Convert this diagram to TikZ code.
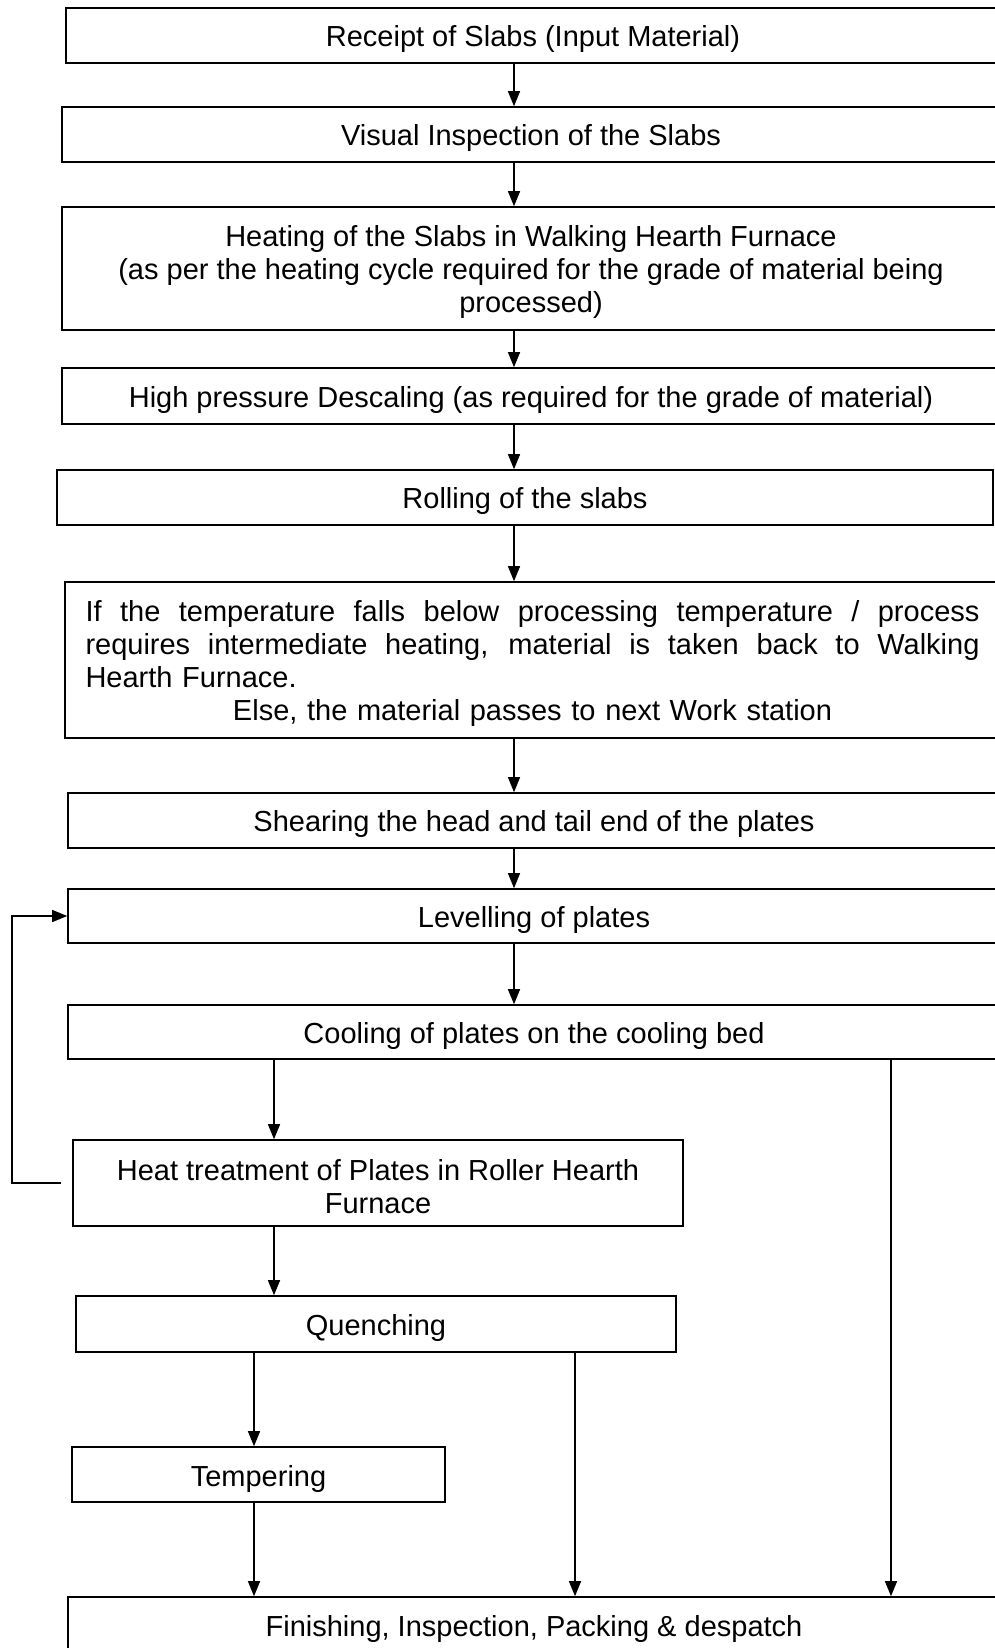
\documentclass[tikz,border=0pt]{standalone}
\usepackage{fontspec}
\setmainfont{Liberation Sans}
\usepackage{tikz}
\usetikzlibrary{arrows.meta}

\newcommand{\lift}{\rule{0pt}{29pt}}
\newcommand{\justline}[1]{\leavevmode\hbox to 894pt{\spaceskip=0.278em plus 1fil\relax #1}}

\begin{document}
\begin{tikzpicture}[
    x=1pt, y=-1pt,
    stage/.style={rectangle, draw, line width=1.6pt, align=center, inner sep=0pt, font=\fontsize{29}{33}\selectfont, execute at begin node={\lift}},
    flow/.style={-{Triangle[length=15pt,width=12pt]}, line width=1.3pt}
]
\useasboundingbox (0,0) rectangle (995,1648);

\node [stage, minimum width=934pt, minimum height=55pt] (receipt) at (533,35.5) {Receipt of Slabs (Input Material)};
\node [stage, minimum width=938pt, minimum height=55pt] (visual) at (531,134.5) {Visual Inspection of the Slabs};
\node [stage, minimum width=938pt, minimum height=123pt] (heating) at (531,268.5) {\lift Heating of the Slabs in Walking Hearth Furnace\\(as per the heating cycle required for the grade of material being\\processed)};
\node [stage, minimum width=938pt, minimum height=56pt] (descale) at (531,396) {High pressure Descaling (as required for the grade of material)};
\node [stage, minimum width=936pt, minimum height=55pt] (rolling) at (525,497.5) {Rolling of the slabs};
\node [stage, minimum width=935pt, minimum height=156pt, text width=894pt, align=left] (temp) at (532.5,660) {%
    \justline{If the temperature falls below processing temperature / process}\\
    \justline{requires intermediate heating, material is taken back to Walking}\\
    Hearth Furnace.\\
    \makebox[894pt][c]{Else, the material passes to next Work station}};
\node [stage, minimum width=932pt, minimum height=55pt] (shearing) at (534,820.5) {Shearing the head and tail end of the plates};
\node [stage, minimum width=932pt, minimum height=54pt] (levelling) at (534,916) {Levelling of plates};
\node [stage, minimum width=932pt, minimum height=54pt] (cooling) at (534,1032) {Cooling of plates on the cooling bed};
\node [stage, minimum width=610pt, minimum height=86pt] (heattreat) at (378,1183) {\lift Heat treatment of Plates in Roller Hearth\\Furnace};
\node [stage, minimum width=600pt, minimum height=56pt] (quench) at (376,1324) {Quenching};
\node [stage, minimum width=373pt, minimum height=55pt] (temper) at (258.5,1474.5) {Tempering};
\node [stage, minimum width=932pt, minimum height=56pt] (finish) at (534,1625) {Finishing, Inspection, Packing \& despatch};

\coordinate (spine) at (514,0);
\coordinate (loop) at (12,0);
\coordinate (hx) at (274,0);
\coordinate (tx) at (254,0);
\coordinate (qx) at (575,0);
\coordinate (cx) at (891,0);

\draw [flow] (receipt.south -| spine) -- (visual.north -| spine);
\draw [flow] (visual.south -| spine) -- (heating.north -| spine);
\draw [flow] (heating.south -| spine) -- (descale.north -| spine);
\draw [flow] (descale.south -| spine) -- (rolling.north -| spine);
\draw [flow] (rolling.south -| spine) -- (temp.north -| spine);
\draw [flow] (temp.south -| spine) -- (shearing.north -| spine);
\draw [flow] (shearing.south -| spine) -- (levelling.north -| spine);
\draw [flow] (levelling.south -| spine) -- (cooling.north -| spine);
\draw [flow] (cooling.south -| hx) -- (heattreat.north -| hx);
\draw [flow] (heattreat.south -| hx) -- (quench.north -| hx);
\draw [flow] (quench.south -| tx) -- (temper.north -| tx);
\draw [flow] (temper.south -| tx) -- (finish.north -| tx);
\draw [flow] (quench.south -| qx) -- (finish.north -| qx);
\draw [flow] (cooling.south -| cx) -- (finish.north -| cx);
\draw [flow] ([xshift=-11pt]heattreat.west) -- (heattreat.west -| loop) |- (levelling.west);

\end{tikzpicture}
\end{document}
